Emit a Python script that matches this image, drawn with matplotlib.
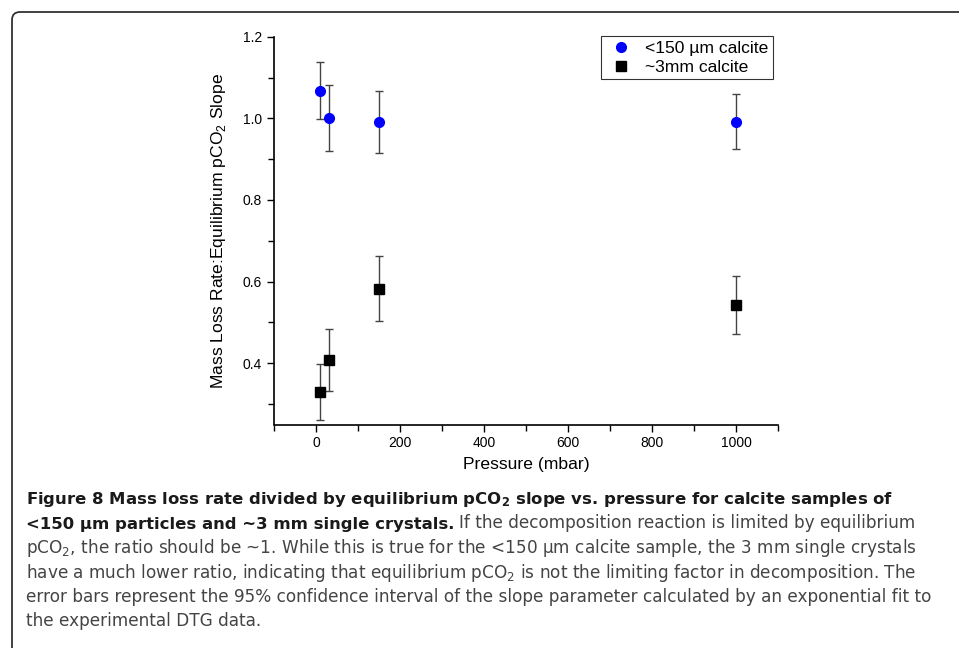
import matplotlib
matplotlib.use('Agg')
import matplotlib.pyplot as plt
from matplotlib.path import Path
from matplotlib.patches import PathPatch

# data
pressure = [10, 30, 150, 1000]
fine_ratio = [1.068, 1.001, 0.991, 0.992]
fine_err = [0.070, 0.080, 0.076, 0.068]
coarse_ratio = [0.330, 0.407, 0.583, 0.543]
coarse_err = [0.068, 0.076, 0.080, 0.071]
labels = ['<150 \u00b5m calcite', '~3mm calcite']

cap_font = 'DejaVu Sans'
plt.rcParams['font.family'] = ['Liberation Sans', 'DejaVu Sans']
plt.rcParams['mathtext.fontset'] = 'custom'
plt.rcParams['mathtext.sf'] = 'Liberation Sans'
plt.rcParams['mathtext.rm'] = cap_font
plt.rcParams['mathtext.bf'] = cap_font + ':bold'

W, H = 959, 648
fig = plt.figure(figsize=(W / 100, H / 100), dpi=100)
ax = fig.add_axes([274 / W, 1 - 424.5 / H, (778 - 274) / W, (424.5 - 36.7) / H])

ax.errorbar(pressure, fine_ratio, yerr=fine_err, fmt='o', color='blue', ms=7,
            ecolor='#444444', elinewidth=1, capsize=2.7, capthick=1, label=labels[0])
ax.errorbar(pressure, coarse_ratio, yerr=coarse_err, fmt='s', color='black', ms=6.5,
            ecolor='#444444', elinewidth=1, capsize=2.7, capthick=1, label=labels[1])

ax.set_xlim(-100, 1100)
ax.set_ylim(0.25, 1.2)
ax.set_xticks([0, 200, 400, 600, 800, 1000])
ax.set_xticks([-100, 100, 300, 500, 700, 900, 1100], minor=True)
ax.set_yticks([0.4, 0.6, 0.8, 1.0, 1.2])
ax.set_yticks([0.3, 0.5, 0.7, 0.9, 1.1], minor=True)
ax.spines['top'].set_visible(False)
ax.spines['right'].set_visible(False)
for s in ('left', 'bottom'):
    ax.spines[s].set_linewidth(1.2)
ax.tick_params(which='both', direction='out', width=1, labelsize=10)
ax.tick_params(which='major', length=5)
ax.tick_params(which='minor', length=4)
ax.set_xlabel('Pressure (mbar)', fontsize=12.6, labelpad=5)
ax.set_ylabel('Mass Loss Rate:Equilibrium pCO$_\\mathsf{2}$ Slope', fontsize=12.6, labelpad=11)

handles, _ = ax.get_legend_handles_labels()
handles = [h[0] for h in handles]
leg = ax.legend(handles, labels, loc='upper right', bbox_to_anchor=(773 / W, 1 - 36 / H),
                bbox_transform=fig.transFigure,
                frameon=True, fancybox=False, edgecolor='black', fontsize=12.6,
                borderaxespad=0, handletextpad=0.5, borderpad=0.25, labelspacing=0.22,
                handlelength=1.8)
leg.get_frame().set_linewidth(0.8)

# rounded frame around the figure panel (top and left sides only)
r = 8
fx = lambda px: px / W
fy = lambda py: 1 - py / H
verts = [(fx(12), fy(H + 5)), (fx(12), fy(12 + r)), (fx(12), fy(12)), (fx(12 + r), fy(12)),
         (fx(W + 5), fy(12))]
codes = [Path.MOVETO, Path.LINETO, Path.CURVE3, Path.CURVE3, Path.LINETO]
fig.add_artist(PathPatch(Path(verts, codes), transform=fig.transFigure, fill=False,
                         edgecolor='#333333', lw=1.3))

# caption
line_y = [504, 528.5, 553, 577.5, 602, 626.5]
x0 = 26
bold_c, reg_c = '#1a1a1a', '#444444'
renderer = fig.canvas.get_renderer()
first = fig.text(fx(x0), fy(line_y[0]),
                 'Figure 8 Mass loss rate divided by equilibrium pCO$_\\mathbf{2}$ slope vs. pressure for calcite samples of',
                 family=cap_font, weight='bold', fontsize=12, va='baseline', color=bold_c)
# fit sizes so that lines end where they do in the original
bold_size = 12 * (890 - x0) / first.get_window_extent(renderer).width
first.set_fontsize(bold_size)

rest = [
    'pCO$_2$, the ratio should be ~1. While this is true for the <150 \u00b5m calcite sample, the 3 mm single crystals',
    'have a much lower ratio, indicating that equilibrium pCO$_2$ is not the limiting factor in decomposition. The',
    'error bars represent the 95% confidence interval of the slope parameter calculated by an exponential fit to',
    'the experimental DTG data.',
]
reg = [fig.text(fx(x0), fy(yy), txt, family=cap_font, fontsize=12, va='baseline', color=reg_c)
       for txt, yy in zip(rest, line_y[2:])]
reg_size = 12 * (932 - x0) / reg[2].get_window_extent(renderer).width
for t in reg:
    t.set_fontsize(reg_size)

bold2 = fig.text(fx(x0), fy(line_y[1]), '<150 \u00b5m particles and ~3 mm single crystals.',
                 family=cap_font, weight='bold', fontsize=bold_size, va='baseline', color=bold_c)
bb = bold2.get_window_extent(renderer)
fig.text(fx(bb.x1 + 5), fy(line_y[1]),
         'If the decomposition reaction is limited by equilibrium',
         family=cap_font, fontsize=reg_size, va='baseline', color=reg_c)

fig.savefig('out.png', dpi=100)
